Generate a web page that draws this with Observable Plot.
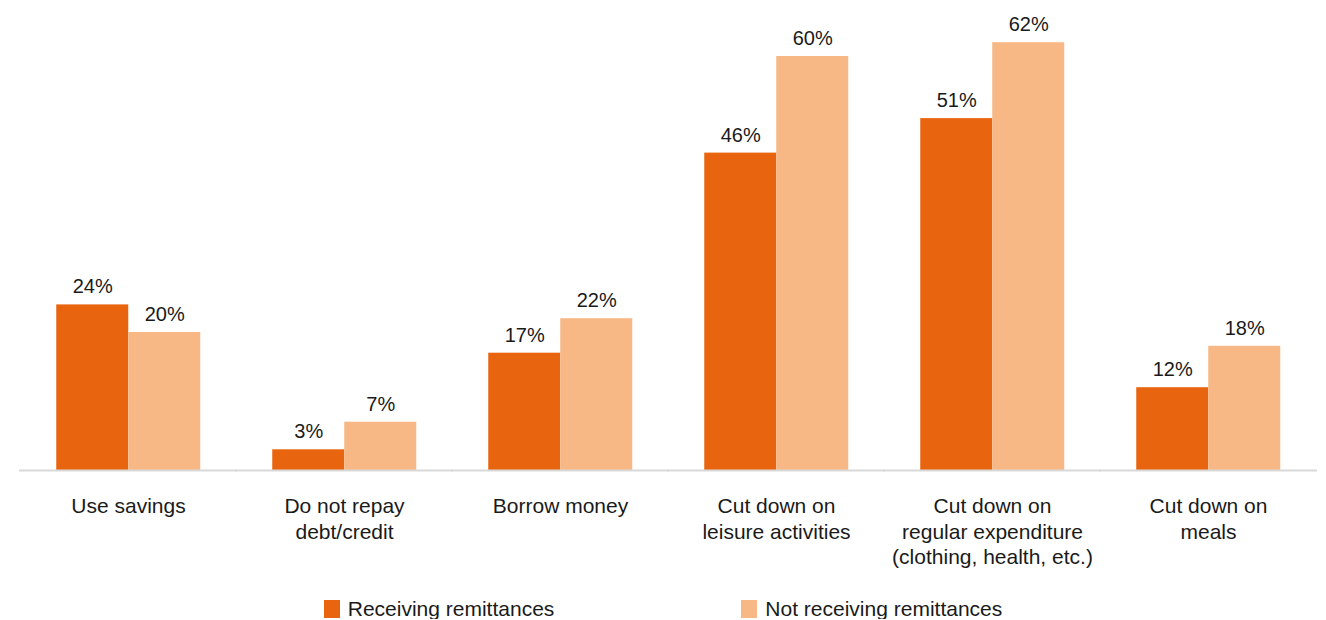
<!DOCTYPE html>
<html>
<head>
<meta charset="utf-8">
<script src="https://cdn.jsdelivr.net/npm/d3@7"></script>
<script src="https://cdn.jsdelivr.net/npm/@observablehq/plot@0.6"></script>
<style>
  html, body { margin: 0; padding: 0; background: #fff; }
  body { width: 1326px; font-family: "Liberation Sans", Arial, sans-serif; color: #1a1a1a; }
  #chart svg { display: block; }
  .legend { display: flex; justify-content: center; gap: 187px; margin-top: 9px; font-size: 21px; line-height: 20px; }
  .legend .item { display: flex; align-items: center; }
  .legend .sw { width: 16px; height: 18px; margin-right: 8px; display: inline-block; }
</style>
</head>
<body>
<div id="chart"></div>
<div class="legend" id="legend"></div>
<script>
const categories = [
  "Use savings",
  "Do not repay\ndebt/credit",
  "Borrow money",
  "Cut down on\nleisure activities",
  "Cut down on\nregular expenditure\n(clothing, health, etc.)",
  "Cut down on\nmeals"
];
const series = ["Receiving remittances", "Not receiving remittances"];
const receiving = [24, 3, 17, 46, 51, 12];
const notReceiving = [20, 7, 22, 60, 62, 18];
const colors = ["#E8640F", "#F7B886"];

const data = [];
categories.forEach((c, i) => {
  data.push({category: c, series: series[0], value: receiving[i]});
  data.push({category: c, series: series[1], value: notReceiving[i]});
});

const chart = Plot.plot({
  width: 1326,
  height: 590,
  marginTop: 21.5,
  marginBottom: 120,
  marginLeft: 18.75,
  marginRight: 8.75,
  style: {fontFamily: "'Liberation Sans', Arial, sans-serif", color: "#1a1a1a", background: "#fff"},
  fx: {domain: categories, paddingInner: 0.335, paddingOuter: 0.1675, label: null},
  x: {domain: series, padding: 0, axis: null},
  y: {domain: [0, 65], axis: null},
  color: {domain: series, range: colors},
  marks: [
    Plot.barY(data, {fx: "category", x: "series", y: "value", fill: "series"}),
    Plot.ruleY([0], {stroke: "#d9d9d9", strokeWidth: 2, insetLeft: -37, insetRight: -37}),
    Plot.text(data, {fx: "category", x: "series", y: "value", text: d => d.value + "%", lineAnchor: "bottom", dy: -11.5, fontSize: 20, fill: "#1a1a1a"}),
    Plot.axisFx({anchor: "bottom", tickSize: 0, tickPadding: 25, fontSize: 21, lineHeight: 1.2, label: null, fill: "#1a1a1a"})
  ]
});
document.getElementById("chart").appendChild(chart);

const legend = document.getElementById("legend");
series.forEach((s, i) => {
  const item = document.createElement("div");
  item.className = "item";
  const sw = document.createElement("span");
  sw.className = "sw";
  sw.style.background = colors[i];
  const label = document.createElement("span");
  label.textContent = s;
  item.appendChild(sw);
  item.appendChild(label);
  legend.appendChild(item);
});
</script>
</body>
</html>
